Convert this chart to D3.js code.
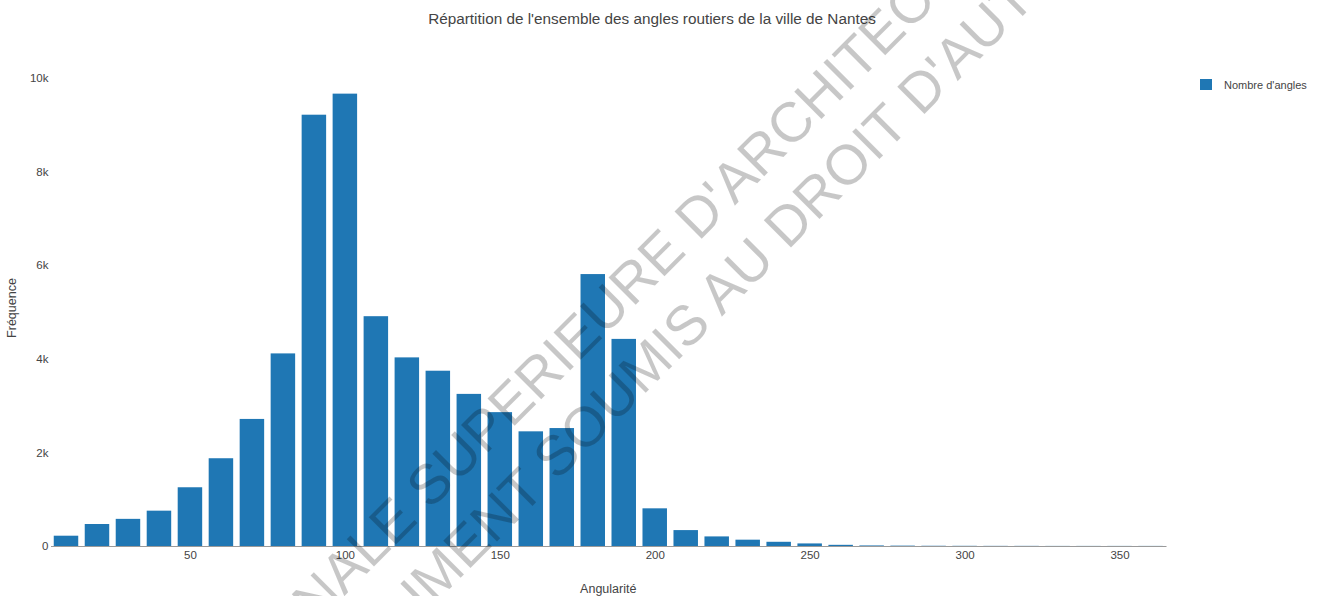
<!DOCTYPE html>
<html>
<head>
<meta charset="utf-8">
<script src="https://cdn.jsdelivr.net/npm/d3@7"></script>
<style>
  html, body { margin: 0; padding: 0; background: #fff; }
  svg { display: block; font-family: "Liberation Sans", Arial, sans-serif; }
</style>
</head>
<body>
<svg id="chart" width="1321" height="596"></svg>
<script>
// Histogram bins (bin centre, degrees) and number of road angles per bin
const angles = [10, 20, 30, 40, 50, 60, 70, 80, 90, 100, 110, 120, 130, 140, 150, 160, 170, 180,
                190, 200, 210, 220, 230, 240, 250, 260, 270, 280, 290, 300, 310, 320, 330, 340, 350, 360];
const counts = [220, 470, 580, 755, 1255, 1875, 2715, 4115, 9215, 9665, 4910, 4030, 3745, 3250, 2860, 2450, 2520, 5810,
                4425, 805, 340, 205, 135, 90, 55, 25, 12, 8, 5, 4, 3, 3, 2, 2, 2, 2];
const xTicks = [50, 100, 150, 200, 250, 300, 350];
const yTicks = [0, 2000, 4000, 6000, 8000, 10000];
const yTickLabels = ["0", "2k", "4k", "6k", "8k", "10k"];

const title = "Répartition de l'ensemble des angles routiers de la ville de Nantes";
const seriesName = "Nombre d'angles";
const xTitle = "Angularité";
const yTitle = "Fréquence";

const barColor = "#1f77b4";
const textColor = "#444";

const svg = d3.select("#chart");

const plotLeft = 50.5, plotRight = 1166, plotTop = 70, plotBottom = 546;

const x = d3.scaleLinear().domain([5, 365]).range([plotLeft, plotRight]);
const y = d3.scaleLinear().domain([0, 10170]).range([plotBottom, plotTop]);
const binWidth = 10;
const barGap = 6.5;

// Bars
svg.append("g")
  .selectAll("rect")
  .data(angles.map((a, i) => ({ a, c: counts[i] })))
  .join("rect")
  .attr("x", d => x(d.a - binWidth / 2) + barGap / 2)
  .attr("width", d => x(d.a + binWidth / 2) - x(d.a - binWidth / 2) - barGap)
  .attr("y", d => y(d.c))
  .attr("height", d => Math.max(0, y(0) - y(d.c)))
  .attr("fill", barColor);

// X axis
const xAxis = svg.append("g")
  .attr("transform", `translate(0,${plotBottom})`)
  .call(d3.axisBottom(x).tickValues(xTicks).tickSize(0).tickPadding(5).tickFormat(d3.format("d")));
xAxis.select(".domain").attr("stroke", "#9a9a9a").attr("stroke-width", 1.2);
xAxis.selectAll("text").attr("fill", textColor).style("font-size", "11.5px")
  .style("font-family", "Liberation Sans, Arial, sans-serif");

// Y axis (labels only)
const yAxis = svg.append("g")
  .attr("transform", `translate(${plotLeft},0)`)
  .call(d3.axisLeft(y).tickValues(yTicks).tickSize(0).tickPadding(2)
    .tickFormat((d, i) => yTickLabels[i]));
yAxis.select(".domain").remove();
yAxis.selectAll("text").attr("fill", textColor).style("font-size", "11.5px")
  .style("font-family", "Liberation Sans, Arial, sans-serif");

// Title
svg.append("text")
  .attr("x", 652).attr("y", 24)
  .attr("text-anchor", "middle")
  .attr("fill", textColor)
  .style("font-size", "15.3px")
  .text(title);

// Axis titles
svg.append("text")
  .attr("x", (plotLeft + plotRight) / 2).attr("y", 593)
  .attr("text-anchor", "middle")
  .attr("fill", textColor)
  .style("font-size", "12.5px")
  .text(xTitle);

svg.append("text")
  .attr("transform", `translate(16,${(plotTop + plotBottom) / 2}) rotate(-90)`)
  .attr("text-anchor", "middle")
  .attr("fill", textColor)
  .style("font-size", "12.5px")
  .text(yTitle);

// Legend
const legend = svg.append("g").attr("transform", "translate(1200,79)");
legend.append("rect").attr("width", 12).attr("height", 11).attr("fill", barColor);
legend.append("text").attr("x", 24).attr("y", 9.5)
  .attr("fill", textColor).style("font-size", "11px").text(seriesName);

// Diagonal copyright stamp across the figure; each line is placed by the
// left edge of a chosen substring
const stampLines = [
  { text: "ECOLE NATIONALE SUPERIEURE D'ARCHITECTURE DE NANTES", key: "ALE SUPERIEURE", px: 330, py: 582 },
  { text: "DOCUMENT SOUMIS AU DROIT D'AUTEUR", key: "MENT SOUMIS", px: 420, py: 590 }
];
const stampAngle = -45;
const stamp = svg.append("g").attr("pointer-events", "none");
stampLines.forEach(l => {
  const g = stamp.append("g").attr("transform", `translate(${l.px},${l.py}) rotate(${stampAngle})`);
  const t = g.append("text")
    .attr("dy", "0.36em")
    .attr("fill", "#000")
    .attr("fill-opacity", 0.22)
    .style("font-size", "56px")
    .text(l.text);
  const node = t.node();
  const idx = l.text.indexOf(l.key);
  const pre = idx > 0 ? node.getSubStringLength(0, idx) : 0;
  t.attr("x", -pre);
});
</script>
</body>
</html>
